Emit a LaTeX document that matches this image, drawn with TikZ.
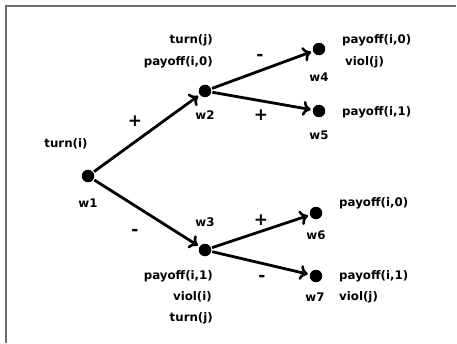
\documentclass[tikz,border=0pt]{standalone}
\usepackage{fontspec}
\setmainfont{DejaVu Sans}
\usetikzlibrary{arrows.meta}
\begin{document}
\begin{tikzpicture}[x=1pt,y=-1pt,
  dot/.style={circle,fill=black,inner sep=0pt,minimum size=12.5pt},
  lbl/.style={font=\bfseries\fontsize{11.8}{13}\selectfont,inner sep=0pt},
  sgn/.style={font=\bfseries\fontsize{17}{17}\selectfont,inner sep=0pt},
  edge/.style={line width=2.8pt,-{To[length=8pt,width=15pt,line width=2.6pt]},shorten >=2pt,shorten <=1pt}]
\useasboundingbox (0,0) rectangle (457,343);
\draw[line width=1.5pt,color={rgb,255:red,110;green,110;blue,110}] (456,6) -- (6,6) -- (6,343);
% nodes
\node[dot] (w1) at (88,176) {};
\node[dot] (w2) at (205,91) {};
\node[dot] (w3) at (205,250) {};
\node[dot] (w4) at (319,49) {};
\node[dot] (w5) at (319,111) {};
\node[dot] (w6) at (316,213) {};
\node[dot] (w7) at (316,276) {};
% edges
\draw[edge] (w1) -- (w2);
\draw[edge] (w1) -- (w3);
\draw[edge] (w2) -- (w4);
\draw[edge] (w2) -- (w5);
\draw[edge] (w3) -- (w6);
\draw[edge] (w3) -- (w7);
% world names
\node[lbl] (n1) at (88,203) {w1};
\node[lbl] (n2) at (205,115) {w2};
\node[lbl] (n3) at (205,222) {w3};
\node[lbl] (n4) at (319,77) {w4};
\node[lbl] (n5) at (319,135) {w5};
\node[lbl] (n6) at (316,235) {w6};
\node[lbl] (n7) at (315,297) {w7};
% signs
\node[sgn] (s12) at (135,121) {+};
\node[sgn] (s13) at (135,232) {-};
\node[sgn] (s24) at (260,57) {-};
\node[sgn] (s25) at (261,115) {+};
\node[sgn] (s36) at (261,220) {+};
\node[sgn] (s37) at (262,278) {-};
% propositions
\node[lbl] (t1) at (66,144) {turn(i)};
\node[lbl,anchor=east] (t2a) at (213,40) {turn(j)};
\node[lbl,anchor=east] (t2b) at (213,62) {payoff(i,0)};
\node[lbl,anchor=east] (t3a) at (213,276) {payoff(i,1)};
\node[lbl,anchor=east] (t3b) at (212,297) {viol(i)};
\node[lbl,anchor=east] (t3c) at (213,318) {turn(j)};
\node[lbl,anchor=west] (t4a) at (342,40) {payoff(i,0)};
\node[lbl,anchor=west] (t4b) at (345,62) {viol(j)};
\node[lbl,anchor=west] (t5) at (342,112) {payoff(i,1)};
\node[lbl,anchor=west] (t6) at (339,203) {payoff(i,0)};
\node[lbl,anchor=west] (t7a) at (339,276) {payoff(i,1)};
\node[lbl,anchor=west] (t7b) at (339,297) {viol(j)};
\end{tikzpicture}
\end{document}
